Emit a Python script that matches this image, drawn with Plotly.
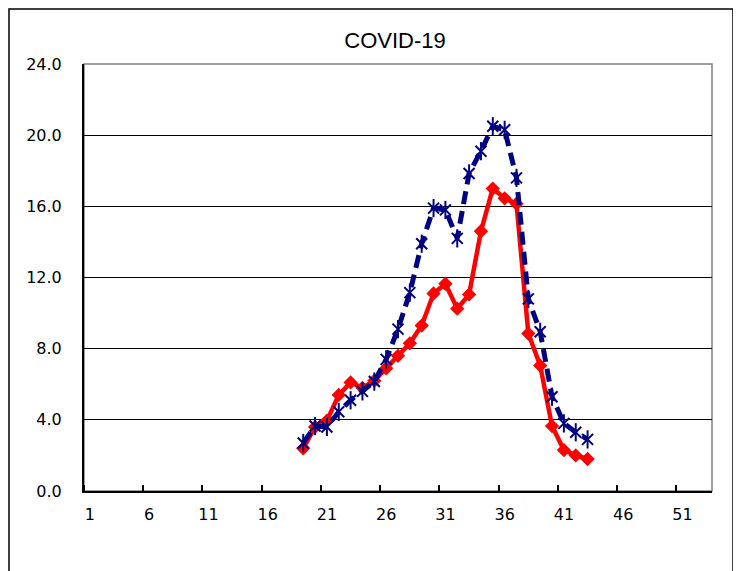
import plotly.graph_objects as go

weeks = list(range(19, 44))
blue_vals = [2.7, 3.65, 3.6, 4.45, 5.1, 5.6, 6.15, 7.4, 9.1, 11.15, 13.9, 15.9, 15.8,
             14.2, 17.85, 19.1, 20.5, 20.3, 17.6, 10.8, 8.95, 5.3, 3.8, 3.3, 2.9]
red_vals = [2.4, 3.6, 3.95, 5.4, 6.1, 5.8, 6.2, 6.9, 7.6, 8.3, 9.3, 11.1, 11.65,
            10.25, 11.05, 14.6, 17.0, 16.45, 16.15, 8.85, 7.05, 3.65, 2.3, 2.0, 1.8]
x_tick_vals = list(range(1, 52, 5))
x_tick_text = [str(v) for v in x_tick_vals]
y_tick_vals = [0, 4, 8, 12, 16, 20, 24]
y_tick_text = ["%.1f" % v for v in y_tick_vals]

NAVY = "#000080"
RED = "#FF0000"

# page body has an 8px margin, so the figure is placed at (8, 8)
W, H = 733, 563

fig = go.Figure()
fig.add_trace(go.Scatter(
    x=weeks, y=red_vals, mode="lines+markers",
    line=dict(color=RED, width=4.5),
    marker=dict(symbol="diamond", size=11, color=RED),
    hoverinfo="skip"))
fig.add_trace(go.Scatter(
    x=weeks, y=blue_vals, mode="lines+markers",
    line=dict(color=NAVY, width=5, dash="13px,7px"),
    marker=dict(symbol="x-thin-open", size=11, color=NAVY, line=dict(color=NAVY, width=2)),
    hoverinfo="skip"))
fig.add_trace(go.Scatter(
    x=weeks, y=blue_vals, mode="markers",
    marker=dict(symbol="line-ns-open", size=13, color=NAVY, line=dict(color=NAVY, width=2)),
    hoverinfo="skip"))

tick_font = dict(family="DejaVu Sans", size=16, color="black")

fig.update_layout(
    width=W, height=H,
    margin=dict(l=76, r=29, t=56, b=80),
    paper_bgcolor="white", plot_bgcolor="white",
    showlegend=False,
    title=dict(text="COVID-19", x=387 / W, xref="container", xanchor="center",
               y=1 - 32 / H, yref="container", yanchor="middle",
               font=dict(family="Liberation Sans", size=22, color="black")),
    xaxis=dict(range=[0.5, 53.5], tickvals=x_tick_vals, ticktext=x_tick_text,
               ticks="", showgrid=False, zeroline=False,
               showline=True, linecolor="black", linewidth=2,
               tickfont=tick_font, ticklabelstandoff=8,
               minor=dict(tick0=0.5, dtick=5, ticks="inside", ticklen=6,
                          tickcolor="black", tickwidth=1.5, showgrid=False)),
    yaxis=dict(range=[0, 24], tickvals=y_tick_vals, ticktext=y_tick_text,
               ticks="", showgrid=True, gridcolor="black", gridwidth=1.2,
               zeroline=False, showline=True, linecolor="black", linewidth=2,
               tickfont=tick_font, ticklabelstandoff=17),
    shapes=[
        dict(type="rect", xref="paper", yref="paper", x0=0, x1=1, y0=0, y1=1,
             line=dict(color="#808080", width=1.5), layer="below"),
        dict(type="rect", xref="paper", yref="paper",
             x0=(9 - 84) / 628, x1=(733 - 84) / 628,
             y0=(491 - 600) / 427, y1=(491 - 9) / 427,
             line=dict(color="black", width=1.5), layer="below"),
    ],
)

fig.write_html("out.html")
